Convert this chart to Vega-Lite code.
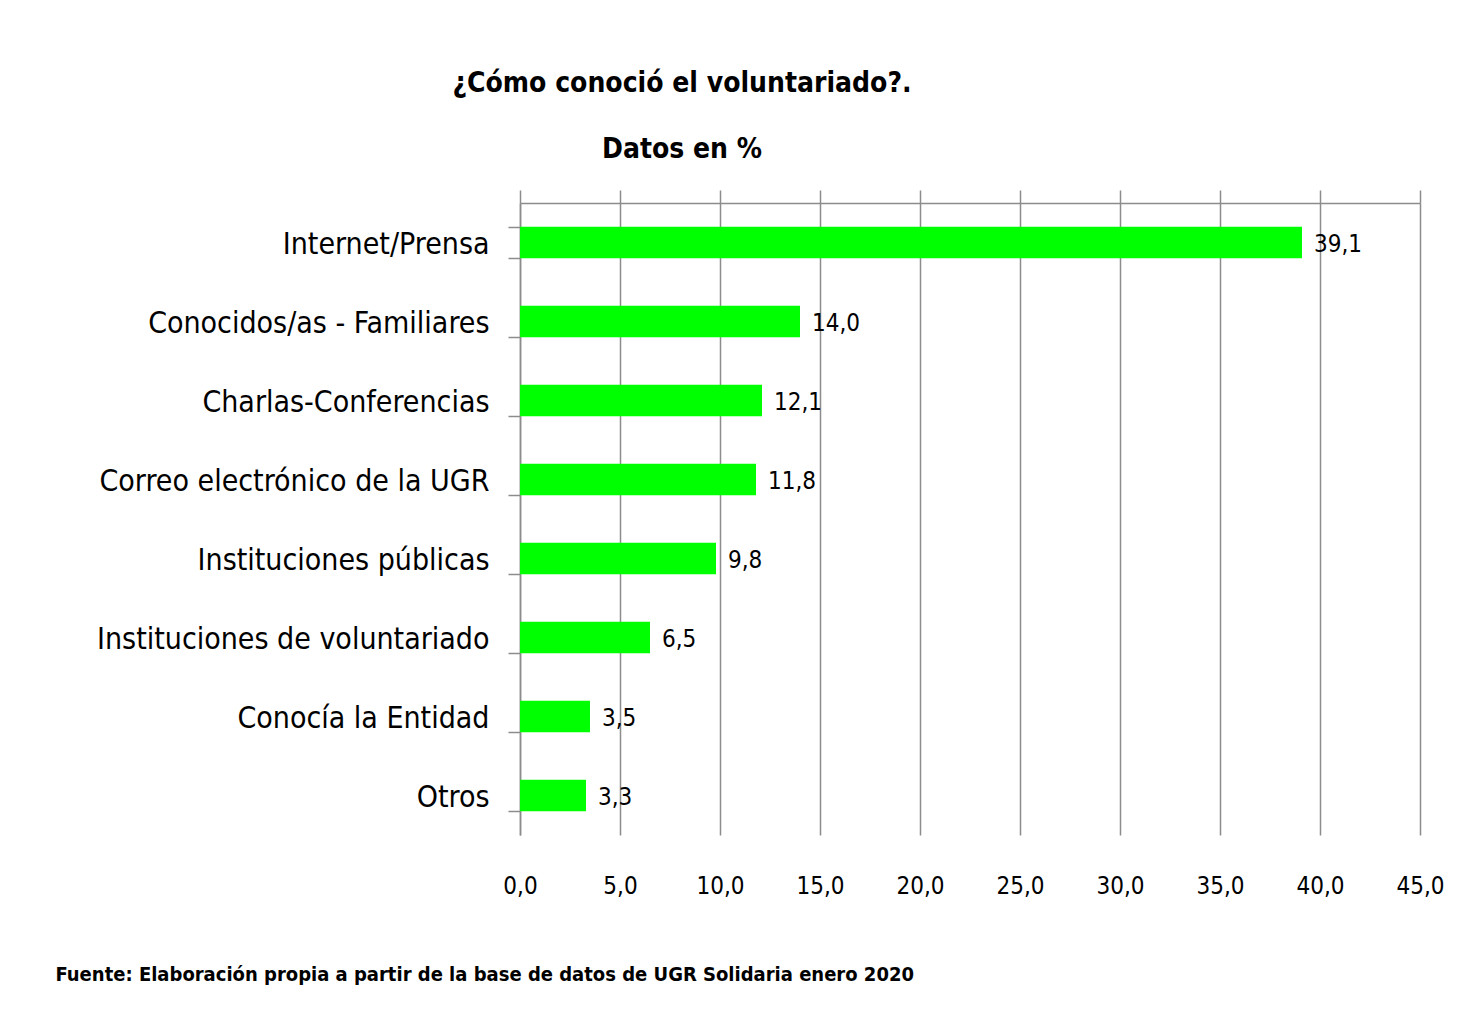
{
  "$schema": "https://vega.github.io/schema/vega-lite/v6.json",
  "width": 900,
  "height": 632,
  "autosize": {"type": "none"},
  "padding": {"left": 520, "top": 203, "right": 49, "bottom": 188},
  "background": "white",
  "config": {
    "locale": {"number": {"decimal": ",", "thousands": ".", "grouping": [3], "currency": ["", " €"]}},
    "view": {"stroke": null},
    "font": "DejaVu Sans Condensed"
  },
  "title": {
    "text": ["¿Cómo conoció el voluntariado?.", "Datos en %"],
    "font": "DejaVu Sans Condensed",
    "fontSize": 28,
    "fontWeight": "bold",
    "color": "#000000",
    "lineHeight": 66,
    "anchor": "middle",
    "frame": "group",
    "dx": -288,
    "offset": 24
  },
  "data": {
    "values": [
      {"medio": "Internet/Prensa", "pct": 39.1},
      {"medio": "Conocidos/as - Familiares", "pct": 14.0},
      {"medio": "Charlas-Conferencias", "pct": 12.1},
      {"medio": "Correo electrónico de la UGR", "pct": 11.8},
      {"medio": "Instituciones públicas", "pct": 9.8},
      {"medio": "Instituciones de voluntariado", "pct": 6.5},
      {"medio": "Conocía la Entidad", "pct": 3.5},
      {"medio": "Otros", "pct": 3.3}
    ]
  },
  "encoding": {
    "y": {
      "field": "medio",
      "type": "nominal",
      "sort": null,
      "scale": {"paddingInner": 0.6, "paddingOuter": 0.3},
      "axis": {
        "title": null,
        "domain": true,
        "domainColor": "#8c8c8c",
        "domainWidth": 1.5,
        "ticks": true,
        "tickBand": "extent",
        "tickColor": "#8c8c8c",
        "tickWidth": 1.5,
        "tickSize": 12,
        "labelPadding": 19,
        "labelFont": "DejaVu Sans Condensed",
        "labelFontSize": 30,
        "labelColor": "#000000",
        "labelLimit": 600,
        "labelOffset": 2,
        "grid": false
      }
    }
  },
  "layer": [
    {
      "mark": {"type": "bar", "color": "#00ff00"},
      "encoding": {
        "x": {
          "field": "pct",
          "type": "quantitative",
          "scale": {"domain": [0, 45], "nice": false},
          "axis": {
            "orient": "bottom",
            "values": [0, 5, 10, 15, 20, 25, 30, 35, 40, 45],
            "format": ".1f",
            "domain": false,
            "ticks": false,
            "grid": true,
            "gridColor": "#8c8c8c",
            "gridWidth": 1.5,
            "labelPadding": 39,
            "labelFlush": false,
            "labelOverlap": false,
            "labelFont": "DejaVu Sans Condensed",
            "labelFontSize": 24,
            "labelColor": "#000000",
            "title": "Fuente: Elaboración  propia a partir de la base de datos de UGR Solidaria enero 2020",
            "titleFont": "DejaVu Sans Condensed",
            "titleFontSize": 20,
            "titleFontWeight": "bold",
            "titleColor": "#000000",
            "titleAlign": "left",
            "titleAnchor": "start",
            "titleBaseline": "top",
            "titleX": -465,
            "titleY": 129
          }
        }
      }
    },
    {
      "mark": {"type": "text", "align": "left", "baseline": "middle", "dx": 12, "dy": 2, "fontSize": 24, "font": "DejaVu Sans Condensed", "color": "#000000"},
      "encoding": {
        "x": {
          "field": "pct",
          "type": "quantitative",
          "axis": {
            "orient": "top",
            "values": [0, 5, 10, 15, 20, 25, 30, 35, 40, 45],
            "labels": false,
            "domain": true,
            "domainColor": "#8c8c8c",
            "domainWidth": 1.5,
            "ticks": true,
            "tickColor": "#8c8c8c",
            "tickWidth": 1.5,
            "tickSize": 13,
            "grid": false,
            "title": null
          }
        },
        "text": {"field": "pct", "type": "quantitative", "format": ".1f"}
      }
    }
  ],
  "resolve": {"axis": {"x": "independent"}}
}
